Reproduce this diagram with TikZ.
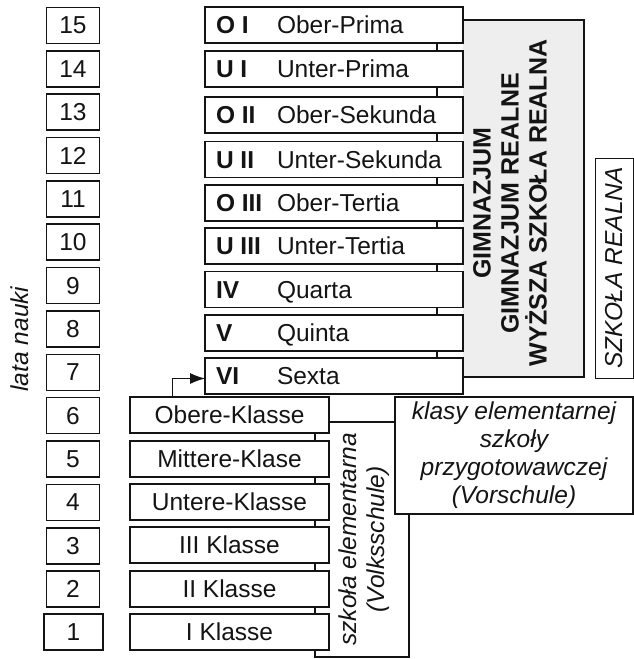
\documentclass[tikz,border=0pt]{standalone}
\usepackage{fontspec}
\setmainfont{Liberation Sans}
\usetikzlibrary{arrows.meta}
\definecolor{boxgray}{RGB}{238,238,238}
\definecolor{ink}{RGB}{20,20,20}
\newcommand\fsz{\fontsize{24.5}{28}\selectfont}
\newcommand\fsb{\fontsize{25}{28}\selectfont}
\begin{document}
\begin{tikzpicture}[x=1pt,y=-1pt,
  every node/.style={inner sep=0pt, outer sep=0pt, text=ink},
  box/.style={draw=ink, line width=1.6pt, fill=white, anchor=north west, minimum height=36pt},
  yrbox/.style={box, minimum width=53pt, font=\fsz},
  clbox/.style={box, minimum width=258pt},
  elbox/.style={box, minimum width=199pt, font=\fsz},
  lab/.style={anchor=base west, font=\bfseries\fsz},
  nam/.style={anchor=base west, font=\fsz},
  rot/.style={rotate=90, align=center, font=\itshape\fsz},
  thinbox/.style={draw=ink, line width=1.3pt, fill=white, anchor=north west},
  arr/.style={draw=ink, line width=1pt, -{Latex[length=15pt,width=11pt]}},
]
\useasboundingbox (0,0) rectangle (634,659);

% years
\foreach \n in {2,...,15}{
  \pgfmathsetmacro\t{7.5+(15-\n)*43.35}
  \node[yrbox] (y\n) at (46.5,\t) {\n};
}
\node[yrbox, minimum width=59pt] (y1) at (44,614) {1};
\node[rot] (lata) at (20,339) {lata nauki};

% gymnasium frame
\fill[boxgray] (463,20) rectangle (584,377);
\node[draw=ink, line width=2.6pt, anchor=north west, minimum width=147pt, minimum height=357pt] (gym) at (437,20) {};
\node[rotate=90, align=center, font=\bfseries\fsb] (gymtext) at (510,203)
  {GIMNAZJUM\\GIMNAZJUM REALNE\\WYŻSZA SZKOŁA REALNA};

% classes
\foreach \i/\t/\l/\nm in {OI/7/O I/Ober-Prima, UI/51/U I/Unter-Prima,
  OII/97/O II/Ober-Sekunda, UII/141.5/U II/Unter-Sekunda,
  OIII/185/O III/Ober-Tertia, UIII/228/U III/Unter-Tertia,
  IV/271.5/IV/Quarta, V/315/V/Quinta, VI/358/VI/Sexta}{
  \node[clbox] (\i) at (205,\t) {};
  \node[lab] (\i l) at ([xshift=11pt,yshift=-8.8pt]\i.west) {\l};
  \node[nam] (\i n) at ([xshift=72pt,yshift=-8.8pt]\i.west) {\nm};
}

% Realschule
\node[draw=ink, line width=1pt, anchor=north west, minimum width=38pt, minimum height=220pt] (real) at (595,158) {};
\node[rot] (realt) at (real.center) {SZKOŁA REALNA};

% Volksschule and Vorschule
\node[thinbox, minimum width=94pt, minimum height=235pt] (volk) at (315,422) {};
\node[rot] (volkt) at ([xshift=2pt]volk.center) {szkoła elementarna\\(Volksschule)};
\node[thinbox, minimum width=238pt, minimum height=117pt] (vor) at (395,397) {};
\node[align=center, font=\itshape\fsz] (vort) at (vor.center) {klasy elementarnej\\szkoły\\przygotowawczej\\(Vorschule)};

% elementary classes
\foreach \i/\t/\nm in {OK/397/Obere-Klasse, MK/441/Mittere-Klase, UK/484/Untere-Klasse,
  KIII/527/III Klasse, KII/571/II Klasse, KI/614/I Klasse}{
  \node[elbox] (\i) at (130,\t) {\nm};
}

% arrow
\draw[arr] ([xshift=42pt]OK.north west) |- ([yshift=-2.5pt]VI.west);
\end{tikzpicture}
\end{document}
